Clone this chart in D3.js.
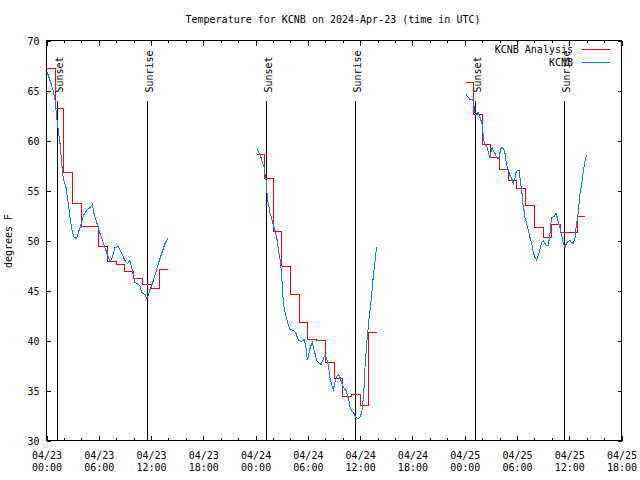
<!DOCTYPE html>
<html><head><meta charset="utf-8">
<script src="https://cdn.jsdelivr.net/npm/d3@7"></script>
<style>
body{margin:0;background:#fff}
svg{display:block}
</style></head><body>
<svg id="c" width="640" height="480"></svg>
<script>
// ---------- DATA ----------
const chartTitle = "Temperature for KCNB on 2024-Apr-23 (time in UTC)";
const yAxisLabel = "degrees F";
const seriesNames = ["KCNB Analysis", "KCNB"];
const startUTC = "2024-04-23T00:00:00Z";
const xSpanHours = 66;
const yTickValues = [30, 35, 40, 45, 50, 55, 60, 65, 70];
const majorTickHours = [0, 6, 12, 18, 24, 30, 36, 42, 48, 54, 60, 66];
const minorTickHours = [2, 4, 8, 10, 14, 16, 20, 22, 26, 28, 32, 34, 38, 40, 44, 46, 50, 52, 56, 58, 62, 64];
const sunsetHours = [1.22, 25.21, 49.2];
const sunriseHours = [11.5, 35.45, 59.43];
const sunLineTopTemp = 64;
const sunLabelTemp = 64.8;

// KCNB Analysis (hourly values, drawn as steps), hours since start
const analysisHours1 = [0, 1, 2, 3, 4, 5, 6, 7, 8, 9, 10, 11, 12, 13, 13.9];
const analysisTemps1 = [67.2, 63.2, 56.8, 53.7, 51.4, 51.4, 49.4, 47.9, 47.6, 46.9, 46.2, 45.6, 45.2, 47.1, 47.1];
const analysisHours2 = [24.2, 25, 26, 27, 28, 29, 30, 31, 32, 33, 34, 35, 36, 37, 37.9];
const analysisTemps2 = [58.6, 56.2, 50.9, 47.4, 44.6, 41.8, 40.1, 40.0, 37.8, 36.2, 34.4, 34.6, 33.5, 40.8, 40.8];
const analysisHours3 = [48.2, 49, 50, 51, 52, 53, 54, 55, 56, 57, 58, 59, 60, 61, 61.8];
const analysisTemps3 = [65.8, 62.6, 59.6, 58.3, 57.1, 56.0, 55.2, 53.5, 51.3, 50.3, 51.6, 50.8, 50.8, 52.4, 52.4];

// KCNB observations
const obsHours1 = [0.1, 0.78, 0.98, 1.24, 1.36, 1.55, 1.74, 1.93, 2.24, 2.5, 2.7, 2.89, 3.16, 3.47, 3.65, 3.85, 4.04, 4.23, 4.61, 4.99, 5.26, 5.45, 5.76, 5.95, 6.14, 6.52, 6.71, 6.91, 7.1, 7.29, 7.48, 7.67, 7.86, 8.24, 8.63, 9.01, 9.28, 9.58, 9.78, 9.97, 10.16, 10.35, 10.73, 10.93, 11.31, 11.5, 11.69, 11.88, 12.07, 12.26, 12.45, 12.65, 12.84, 13.03, 13.22, 13.41, 13.6, 13.91];
const obsTemps1 = [66.8, 65.0, 64.0, 61.8, 61.0, 59.7, 57.8, 56.2, 55.3, 53.7, 52.3, 51.2, 50.3, 50.2, 50.8, 51.3, 51.8, 52.5, 53.0, 53.3, 53.6, 52.7, 51.8, 51.3, 50.7, 49.8, 49.3, 48.8, 48.3, 47.9, 48.1, 48.7, 49.3, 49.4, 48.7, 48.0, 47.7, 48.0, 47.3, 46.5, 45.8, 45.7, 45.5, 44.8, 44.6, 44.2, 44.5, 45.1, 45.5, 46.0, 46.5, 47.1, 47.7, 48.2, 48.7, 49.2, 49.7, 50.2];
const obsHours2 = [24.2, 24.43, 24.62, 24.81, 24.97, 25.08, 25.2, 25.27, 25.35, 25.5, 25.65, 25.85, 26.04, 26.23, 26.42, 26.61, 26.73, 26.88, 26.99, 27.11, 27.18, 27.38, 27.57, 27.76, 27.95, 28.33, 28.6, 28.79, 28.98, 29.29, 29.56, 29.75, 29.86, 29.94, 30.05, 30.17, 30.36, 30.51, 30.63, 30.82, 31.01, 31.2, 31.51, 31.7, 31.89, 32.08, 32.23, 32.39, 32.54, 32.73, 32.92, 33.11, 33.31, 33.57, 33.69, 33.88, 34.07, 34.38, 34.53, 34.72, 34.84, 35.03, 35.3, 35.49, 35.79, 35.98, 36.18, 36.37, 36.48, 36.56, 36.67, 36.75, 36.87, 36.98, 37.13, 37.32, 37.44, 37.59, 37.71, 37.82, 37.9];
const obsTemps2 = [59.1, 58.7, 58.3, 57.8, 57.3, 56.7, 56.0, 55.3, 54.3, 53.5, 52.8, 52.2, 51.5, 51.0, 50.3, 49.3, 48.5, 47.7, 46.5, 45.0, 43.8, 42.8, 42.2, 41.5, 41.1, 41.0, 40.8, 40.3, 40.0, 39.9, 40.1, 39.5, 38.7, 38.1, 38.3, 39.0, 39.5, 39.8, 39.3, 38.7, 38.0, 37.8, 37.6, 38.0, 38.4, 38.3, 38.0, 37.3, 36.3, 35.5, 35.1, 35.8, 36.4, 36.6, 36.3, 35.8, 35.3, 35.0, 34.5, 34.0, 33.3, 33.0, 32.7, 32.3, 32.2, 32.3, 32.8, 34.3, 35.7, 37.3, 38.7, 39.7, 40.7, 41.8, 43.0, 44.5, 45.8, 47.0, 48.0, 48.8, 49.3];
const obsHours3 = [48.15, 48.42, 48.61, 48.92, 49.07, 49.18, 49.38, 49.57, 49.76, 49.95, 50.07, 50.14, 50.26, 50.45, 50.6, 50.72, 50.83, 50.91, 51.02, 51.14, 51.29, 51.48, 51.67, 51.86, 51.98, 52.13, 52.32, 52.51, 52.63, 52.74, 52.9, 53.05, 53.2, 53.39, 53.59, 53.78, 53.89, 54.08, 54.24, 54.35, 54.46, 54.58, 54.66, 54.81, 54.92, 55.11, 55.31, 55.5, 55.69, 55.88, 56.07, 56.26, 56.45, 56.65, 56.84, 57.03, 57.22, 57.41, 57.6, 57.79, 57.91, 57.99, 58.25, 58.48, 58.64, 58.75, 58.94, 59.13, 59.32, 59.52, 59.71, 59.9, 60.09, 60.28, 60.47, 60.67, 60.78, 60.97, 61.09, 61.24, 61.43, 61.62, 61.78, 61.89, 62.0];
const obsTemps3 = [64.6, 64.3, 64.1, 64.1, 63.5, 62.8, 62.7, 62.8, 62.3, 61.8, 61.2, 60.3, 59.8, 59.5, 59.3, 58.8, 58.4, 58.3, 58.8, 59.3, 59.0, 58.7, 58.3, 58.2, 58.4, 59.2, 59.3, 59.1, 58.7, 58.0, 57.3, 56.9, 56.5, 56.2, 55.7, 56.3, 56.8, 57.0, 57.0, 56.3, 55.5, 54.7, 53.7, 53.0, 52.3, 51.7, 51.0, 50.3, 49.7, 48.8, 48.3, 48.0, 48.5, 49.2, 49.8, 50.0, 49.7, 49.5, 49.5, 50.7, 51.8, 52.3, 52.4, 52.7, 52.3, 51.8, 51.3, 50.5, 49.7, 49.3, 49.8, 49.9, 50.0, 49.8, 49.7, 50.3, 51.3, 52.3, 53.3, 54.7, 55.7, 57.0, 57.8, 58.3, 58.5];

const analysisColor = "#ff0000";
const obsColor = "#1080ff";

// ---------- DRAW ----------
const FONT = '"DejaVu Sans Mono", monospace';
const svg = d3.select("#c");
const L = 46.5, R = 621.5, T = 40.5, B = 440.5;
const t0 = Date.parse(startUTC);
const toDate = h => new Date(t0 + h * 3600e3);

const x = d3.scaleUtc().domain([toDate(0), toDate(xSpanHours)]).range([L, R]);
const y = d3.scaleLinear().domain([30, 70]).range([B, T]);

svg.append("rect").attr("width", 640).attr("height", 480).attr("fill", "#fff");

// title
svg.append("text").attr("x", 333).attr("y", 23).attr("text-anchor", "middle")
  .attr("font-family", FONT).attr("font-size", 10).text(chartTitle);

// y label
svg.append("text").attr("transform", "translate(12,241) rotate(-90)")
  .attr("text-anchor", "middle").attr("font-family", FONT).attr("font-size", 10).text(yAxisLabel);

function styleAxis(g) {
  g.attr("font-family", FONT).attr("font-size", 10).attr("shape-rendering", "crispEdges");
  g.select(".domain").remove();
}

const fmtD = d3.utcFormat("%m/%d"), fmtT = d3.utcFormat("%H:%M");

// bottom major
const gx = svg.append("g").attr("transform", `translate(0,${B})`)
  .call(d3.axisBottom(x).tickValues(majorTickHours.map(toDate)).tickSizeInner(-5).tickSizeOuter(0));
styleAxis(gx);
gx.selectAll(".tick text").attr("dy", null).attr("y", null).text(null).each(function (d) {
  const s = d3.select(this);
  s.append("tspan").attr("x", 0).attr("y", 18).text(fmtD(d));
  s.append("tspan").attr("x", 0).attr("y", 30.5).text(fmtT(d));
});
// bottom minor
styleAxis(svg.append("g").attr("transform", `translate(0,${B})`)
  .call(d3.axisBottom(x).tickValues(minorTickHours.map(toDate)).tickSizeInner(-2.5).tickSizeOuter(0).tickFormat("")));
// top mirror
styleAxis(svg.append("g").attr("transform", `translate(0,${T})`)
  .call(d3.axisTop(x).tickValues(majorTickHours.map(toDate)).tickSizeInner(-5).tickSizeOuter(0).tickFormat("")));
styleAxis(svg.append("g").attr("transform", `translate(0,${T})`)
  .call(d3.axisTop(x).tickValues(minorTickHours.map(toDate)).tickSizeInner(-2.5).tickSizeOuter(0).tickFormat("")));

// y axes
const gy = svg.append("g").attr("transform", `translate(${L},0)`)
  .call(d3.axisLeft(y).tickValues(yTickValues).tickSizeInner(-4).tickSizeOuter(0).tickPadding(7));
styleAxis(gy);
gy.selectAll(".tick text").attr("dy", "0.35em");
styleAxis(svg.append("g").attr("transform", `translate(${R},0)`)
  .call(d3.axisRight(y).tickValues(yTickValues).tickSizeInner(-4).tickSizeOuter(0).tickFormat("")));

// sunrise / sunset
const sunEvents = sunsetHours.map(h => ({ h, label: "Sunset" }))
  .concat(sunriseHours.map(h => ({ h, label: "Sunrise" })));
const gs = svg.append("g");
gs.selectAll("line").data(sunEvents).join("line")
  .attr("x1", d => Math.round(x(toDate(d.h))) + 0.5).attr("x2", d => Math.round(x(toDate(d.h))) + 0.5)
  .attr("y1", y(sunLineTopTemp)).attr("y2", y(30))
  .attr("stroke", "#000").attr("stroke-width", 1).attr("shape-rendering", "crispEdges");
gs.selectAll("text").data(sunEvents).join("text")
  .attr("transform", d => `translate(${Math.round(x(toDate(d.h))) + 6},${y(sunLabelTemp)}) rotate(-90)`)
  .attr("font-family", FONT).attr("font-size", 10).text(d => d.label);

// series
const line = d3.line().x(d => x(toDate(d[0]))).y(d => y(d[1]));
const stepLine = d3.line().x(d => x(toDate(d[0]))).y(d => y(d[1])).curve(d3.curveStepAfter);
const zip = (a, b) => a.map((v, i) => [v, b[i]]);

const analysisSegs = [zip(analysisHours1, analysisTemps1), zip(analysisHours2, analysisTemps2), zip(analysisHours3, analysisTemps3)];
const obsSegs = [zip(obsHours1, obsTemps1), zip(obsHours2, obsTemps2), zip(obsHours3, obsTemps3)];

svg.append("g").selectAll("path").data(analysisSegs).join("path")
  .attr("d", stepLine).attr("fill", "none").attr("stroke", analysisColor).attr("stroke-width", 1)
  .attr("shape-rendering", "crispEdges");
svg.append("g").selectAll("path").data(obsSegs).join("path")
  .attr("d", line).attr("fill", "none").attr("stroke", obsColor).attr("stroke-width", 1)
  .attr("shape-rendering", "crispEdges");

// legend
const legend = [{ name: seriesNames[0], color: analysisColor, y: 49.5 }, { name: seriesNames[1], color: obsColor, y: 62.5 }];
const gl = svg.append("g");
gl.selectAll("text").data(legend).join("text")
  .attr("x", 573).attr("y", d => d.y).attr("dy", "0.35em").attr("text-anchor", "end")
  .attr("font-family", FONT).attr("font-size", 10).text(d => d.name);
gl.selectAll("line").data(legend).join("line")
  .attr("x1", 582).attr("x2", 610).attr("y1", d => d.y).attr("y2", d => d.y)
  .attr("stroke", d => d.color).attr("stroke-width", 1).attr("shape-rendering", "crispEdges");

// border
svg.append("rect").attr("x", L).attr("y", T).attr("width", R - L).attr("height", B - T)
  .attr("fill", "none").attr("stroke", "#000").attr("stroke-width", 1).attr("shape-rendering", "crispEdges");
</script>
</body></html>
